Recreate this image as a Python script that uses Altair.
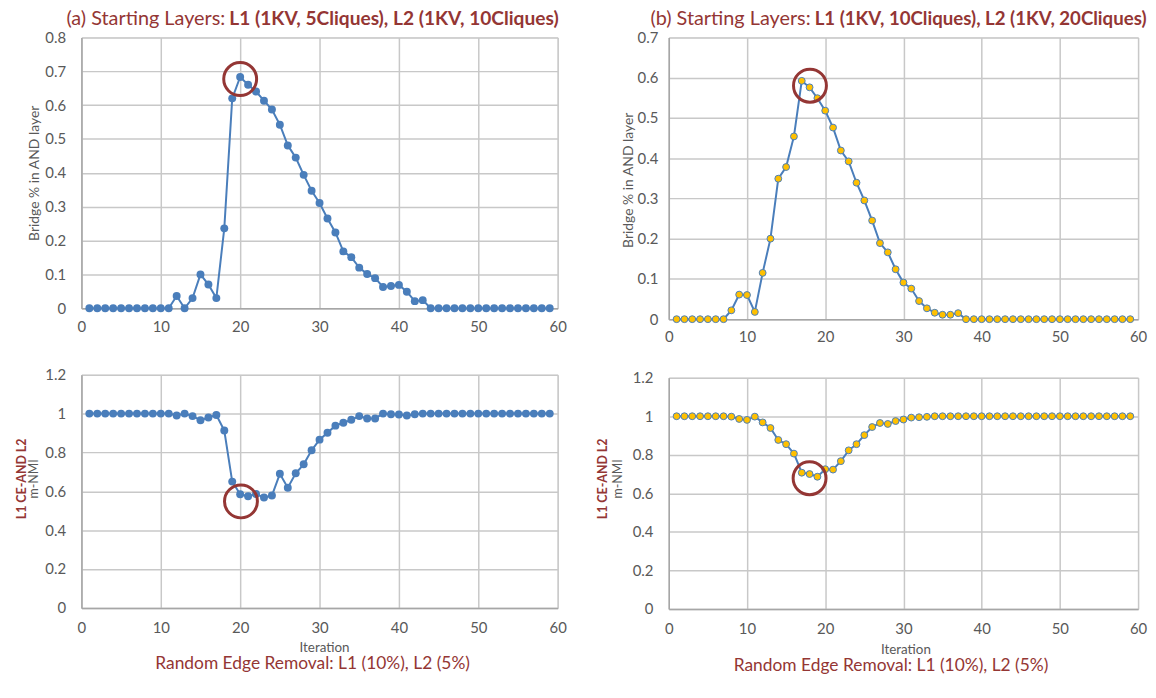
import altair as alt
import pandas as pd

iterations = list(range(1, 60))

a_bridge = [0]*11 + [0.036, 0, 0.03, 0.10, 0.07, 0.03, 0.236, 0.62, 0.683, 0.66, 0.64, 0.613,
                     0.587, 0.542, 0.481, 0.445, 0.394, 0.347, 0.311, 0.265, 0.224, 0.168, 0.151,
                     0.12, 0.101, 0.089, 0.063, 0.066, 0.069, 0.049, 0.021, 0.024] + [0]*16
a_nmi = [1]*11 + [0.99, 1.0, 0.987, 0.966, 0.98, 0.993, 0.913, 0.65, 0.585, 0.575, 0.586, 0.568,
                  0.578, 0.69, 0.618, 0.693, 0.739, 0.811, 0.866, 0.901, 0.938, 0.953, 0.968,
                  0.987, 0.975, 0.975, 1.0, 0.997, 0.995, 0.99, 0.997] + [1]*17
b_bridge = [0]*7 + [0.022, 0.061, 0.06, 0.018, 0.115, 0.2, 0.349, 0.378, 0.454, 0.592, 0.576,
                    0.549, 0.518, 0.476, 0.419, 0.392, 0.339, 0.295, 0.245, 0.189, 0.166, 0.124,
                    0.091, 0.076, 0.045, 0.027, 0.016, 0.011, 0.011, 0.015] + [0]*22
b_nmi = [1]*7 + [0.998, 0.986, 0.981, 0.998, 0.968, 0.939, 0.877, 0.855, 0.806, 0.707, 0.700,
                 0.686, 0.725, 0.723, 0.767, 0.823, 0.855, 0.902, 0.944, 0.965, 0.96, 0.975,
                 0.983, 0.993, 0.995, 0.997] + [1]*26

# highlighted points (red circles): x, y
hl_a_top = (20, 0.677)
hl_a_bot = (20.1, 0.548)
hl_b_top = (18.05, 0.58)
hl_b_bot = (18, 0.678)

x_ticks = [0, 10, 20, 30, 40, 50, 60]
y_ticks_a_top = [0, 0.1, 0.2, 0.3, 0.4, 0.5, 0.6, 0.7, 0.8]
y_ticks_b_top = [0, 0.1, 0.2, 0.3, 0.4, 0.5, 0.6, 0.7]
y_ticks_bot = [0, 0.2, 0.4, 0.6, 0.8, 1.0, 1.2]

title_a_norm = "(a) Starting Layers:"
title_a_bold = "L1 (1KV, 5Cliques), L2 (1KV, 10Cliques)"
title_b_norm = "(b) Starting Layers:"
title_b_bold = "L1 (1KV, 10Cliques), L2 (1KV, 20Cliques)"
ytitle_top = "Bridge % in AND layer"
ytitle_bot_1 = "L1 CE-AND L2"
ytitle_bot_2 = "m-NMI"
xtitle = "Iteration"
subtitle = "Random Edge Removal: L1 (10%), L2 (5%)"

FONT = "Lato"
RED = "#943634"
BLUE = "#4A7EBB"
GOLD = "#FFC000"
GRAY_TXT = "#595959"
GRID = "#C8C8C8"


def text(label, x, y, size, color, weight="normal", angle=0, align="center", baseline="middle"):
    df = pd.DataFrame({"t": [label]})
    kw = dict(font=FONT, fontSize=size, color=color, fontWeight=weight,
              align=align, baseline=baseline)
    if angle:
        kw["angle"] = angle
    return alt.Chart(df).mark_text(**kw).encode(
        text="t:N", x=alt.value(x), y=alt.value(y))


def panel(values, ydom, yticks, style, hl, ylabpad, xlabpad):
    df = pd.DataFrame({"Iteration": iterations, "v": values})
    xenc = alt.X("Iteration:Q", scale=alt.Scale(domain=[0, 60], nice=False),
                 axis=alt.Axis(values=x_ticks, title=None, grid=True, ticks=False,
                               labelPadding=xlabpad, labelFontSize=15, labelColor=GRAY_TXT,
                               labelFont=FONT, gridColor=GRID, gridWidth=1.5,
                               labelOverlap=False,
                               domainColor="#A6A6A6", domainWidth=1.5, labelFlush=False))
    yenc = alt.Y("v:Q", scale=alt.Scale(domain=ydom, nice=False),
                 axis=alt.Axis(values=yticks, title=None, grid=True, ticks=False, format="~g",
                               labelPadding=ylabpad, labelFontSize=15, labelColor=GRAY_TXT,
                               labelFont=FONT, gridColor=GRID, gridWidth=1.5,
                               labelOverlap=False,
                               domainColor="#A6A6A6", domainWidth=1.5, labelFlush=False))
    base = alt.Chart(df).encode(x=xenc, y=yenc)
    line = base.mark_line(color=BLUE, strokeWidth=2)
    if style == "a":
        pts = base.mark_circle(size=64, color=BLUE, opacity=1)
    else:
        pts = base.mark_circle(size=48, color=GOLD, opacity=1, stroke=BLUE, strokeWidth=1)
    hdf = pd.DataFrame({"Iteration": [hl[0]], "v": [hl[1]]})
    ring = alt.Chart(hdf).mark_point(shape="circle", size=1100, filled=False, stroke=RED,
                                     strokeWidth=3, opacity=1).encode(x=xenc, y=yenc)
    return line, pts, ring


W = 480
HB1 = 235
# (a) top
l, p, r = panel(a_bridge, [0, 0.8], y_ticks_a_top, "a", hl_a_top, 16, 11)
a_top = alt.layer(
    l, p, r,
    text(title_a_norm, 145, -18, 20, RED, align="right"),
    text(title_a_bold, 149, -18, 19.3, RED, weight="bold", align="left"),
    text(ytitle_top, -47, 137, 14, GRAY_TXT, angle=270),
).properties(width=W, height=273)

# (a) bottom
l, p, r = panel(a_nmi, [0, 1.2], y_ticks_bot, "a", hl_a_bot, 16, 13)
a_bot = alt.layer(
    l, p, r,
    text(ytitle_bot_1, -60, 105, 12.5, RED, weight="bold", angle=270),
    text(ytitle_bot_2, -48, 105, 12.5, GRAY_TXT, angle=270),
    text(xtitle, 245, HB1 + 40, 13.5, GRAY_TXT),
    text(subtitle, 233, HB1 + 57, 17.5, RED),
).properties(width=W, height=HB1)

# (b) top
W2 = 473
HB2 = 233
l, p, r = panel(b_bridge, [0, 0.7], y_ticks_b_top, "b", hl_b_top, 11, 11)
b_top = alt.layer(
    l, p, r,
    text(title_b_norm, 143, -18, 20, RED, align="right"),
    text(title_b_bold, 147, -18, 18.8, RED, weight="bold", align="left"),
    text(ytitle_top, -40, 144, 14, GRAY_TXT, angle=270),
).properties(width=W2, height=284)

# (b) bottom
l, p, r = panel(b_nmi, [0, 1.2], y_ticks_bot, "b", hl_b_bot, 16, 13)
b_bot = alt.layer(
    l, p, r,
    text(ytitle_bot_1, -66, 102, 12.5, RED, weight="bold", angle=270),
    text(ytitle_bot_2, -51, 102, 12.5, GRAY_TXT, angle=270),
    text(xtitle, 239, HB2 + 41, 13.5, GRAY_TXT),
    text(subtitle, 224, HB2 + 58, 17.5, RED),
).properties(width=W2, height=HB2)

left = alt.vconcat(a_top, a_bot, spacing=67, bounds="flush")
right = alt.vconcat(b_top, b_bot, spacing=59, bounds="flush")

chart = alt.hconcat(left, right, spacing=29).properties(
    padding={"left": 7, "top": -2, "right": 0, "bottom": -3}
).configure_view(stroke="transparent").configure(font=FONT)

chart.save("out.html", embed_options={"renderer": "svg", "actions": False})
